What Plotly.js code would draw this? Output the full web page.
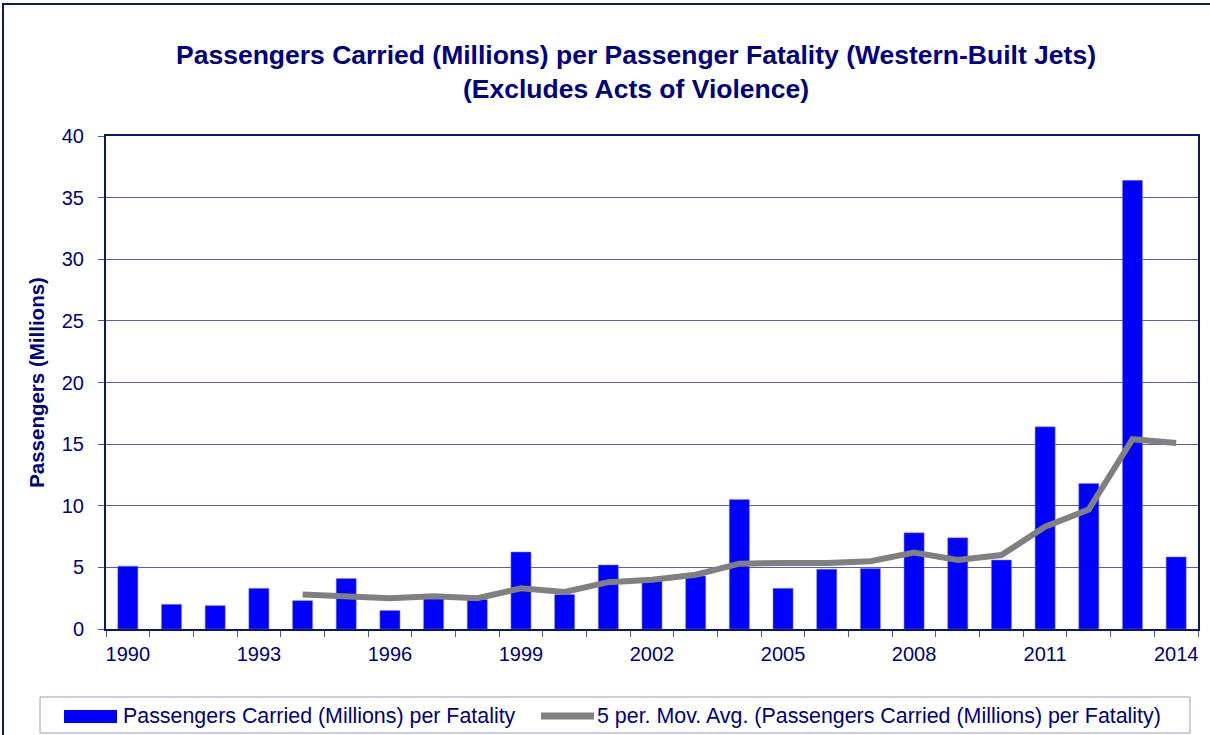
<!DOCTYPE html>
<html>
<head>
<meta charset="utf-8">
<script src="https://cdn.plot.ly/plotly-3.0.1.min.js"></script>
<style>html,body{margin:0;padding:0;background:#fff;}#chart{width:1210px;height:735px;}</style>
</head>
<body>
<div id="chart"></div>
<script>
const years = [1990,1991,1992,1993,1994,1995,1996,1997,1998,1999,2000,2001,2002,2003,2004,2005,2006,2007,2008,2009,2010,2011,2012,2013,2014];
const passengersPerFatality = [5.1,2.0,1.9,3.3,2.3,4.1,1.5,2.6,2.4,6.25,2.8,5.2,4.0,4.3,10.5,3.3,4.85,4.9,7.8,7.4,5.6,16.4,11.8,36.4,5.85];
const maYears = [1994,1995,1996,1997,1998,1999,2000,2001,2002,2003,2004,2005,2006,2007,2008,2009,2010,2011,2012,2013,2014];
const movingAvg = [2.8,2.65,2.5,2.65,2.5,3.3,3.0,3.8,4.0,4.4,5.3,5.35,5.35,5.5,6.2,5.6,6.0,8.3,9.7,15.4,15.1];
const tickYears = [1990,1993,1996,1999,2002,2005,2008,2011,2014];
const yTicks = [0,5,10,15,20,25,30,35,40];
const barName = 'Passengers Carried (Millions) per Fatality';
const lineName = '5 per. Mov. Avg. (Passengers Carried (Millions) per Fatality)';

const navy = '#000080';
const font = 'Liberation Sans, Arial, sans-serif';
const barColor = '#0000ff';
const lineColor = '#808080';

const traces = [
  {
    type: 'bar', x: years, y: passengersPerFatality, name: barName,
    marker: {color: barColor, line: {color: '#8a8ae0', width: 0.5}},
    width: 0.46
  },
  {
    type: 'scatter', mode: 'lines', x: maYears, y: movingAvg, name: lineName,
    line: {color: lineColor, width: 6}
  }
];

// pixel -> paper helpers (plot area: x 106..1198, y 136..629)
const px = v => (v - 106) / 1092;
const py = v => (629 - v) / 493;

const layout = {
  width: 1210, height: 735,
  margin: {l: 106, r: 12, t: 136, b: 106, pad: 0},
  paper_bgcolor: '#ffffff', plot_bgcolor: '#ffffff',
  font: {family: font, color: navy, size: 20},
  title: {
    text: '<b>Passengers Carried (Millions) per Passenger Fatality (Western-Built Jets)<br>(Excludes Acts of Violence)</b>',
    font: {family: font, size: 26.5, color: navy},
    x: px(636), xanchor: 'center', xref: 'paper',
    y: 1 - 64/735, yanchor: 'middle'
  },
  showlegend: false,
  bargap: 0.54,
  xaxis: {
    type: 'linear', range: [1989.5, 2014.5],
    tickvals: tickYears, ticktext: tickYears.map(String),
    ticks: '', showgrid: false, zeroline: false,
    showline: true, mirror: true, linecolor: '#0a1a5e', linewidth: 2,
    tickfont: {family: font, size: 20, color: navy},
    ticklabelstandoff: 6,
    minor: {tick0: 1989.5, dtick: 1, ticks: 'outside', ticklen: 6, tickcolor: '#5050a8', tickwidth: 1, showgrid: false}
  },
  yaxis: {
    range: [0, 40], tickvals: yTicks,
    ticks: 'outside', ticklen: 6, tickcolor: '#5050a8', tickwidth: 1,
    showgrid: true, gridcolor: '#5a5aae', gridwidth: 1, zeroline: false,
    showline: true, mirror: true, linecolor: '#0a1a5e', linewidth: 2,
    tickfont: {family: font, size: 20, color: navy},
    ticklabelstandoff: 10,
    title: {text: '<b>Passengers (Millions)</b>', font: {family: font, size: 20.5, color: navy}, standoff: 12}
  },
  shapes: [
    {type: 'rect', xref: 'paper', yref: 'paper', x0: px(3), x1: px(1216), y0: py(745), y1: py(4),
     line: {color: '#0a1a5e', width: 2}, fillcolor: 'rgba(0,0,0,0)', layer: 'below'},
    {type: 'rect', xref: 'paper', yref: 'paper', x0: px(40), x1: px(1190), y0: py(733), y1: py(697),
     line: {color: '#9a9ad0', width: 1}, fillcolor: 'rgba(0,0,0,0)', layer: 'below'},
    // legend keys
    {type: 'rect', xref: 'paper', yref: 'paper', x0: px(64), x1: px(117), y0: py(723), y1: py(710),
     line: {width: 0}, fillcolor: barColor},
    {type: 'line', xref: 'paper', yref: 'paper', x0: px(541), x1: px(594), y0: py(716), y1: py(716),
     line: {color: lineColor, width: 7}}
  ],
  annotations: [
    {xref: 'paper', yref: 'paper', x: px(121), y: py(716), xanchor: 'left', yanchor: 'middle',
     text: barName, showarrow: false, font: {family: font, size: 21.4, color: navy}},
    {xref: 'paper', yref: 'paper', x: px(595), y: py(716), xanchor: 'left', yanchor: 'middle',
     text: lineName, showarrow: false, font: {family: font, size: 21.4, color: navy}}
  ]
};

Plotly.newPlot('chart', traces, layout, {displayModeBar: false, staticPlot: true});
</script>
</body>
</html>
